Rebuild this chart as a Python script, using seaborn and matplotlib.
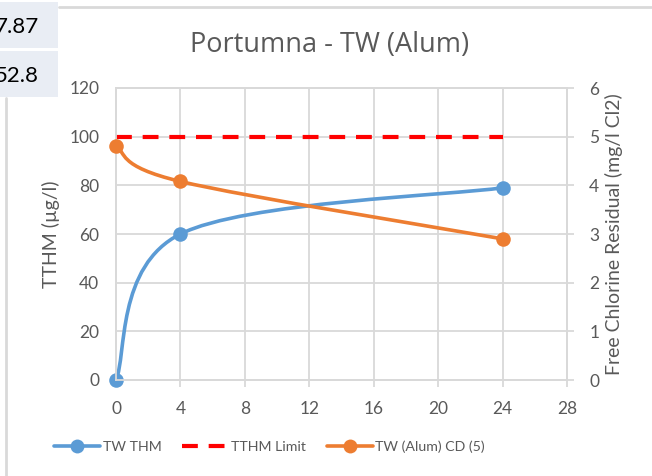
import numpy as np
import matplotlib
matplotlib.use("Agg")
import matplotlib.pyplot as plt
from matplotlib.path import Path
from matplotlib.patches import PathPatch, Rectangle
from matplotlib.lines import Line2D
import seaborn as sns

# Sampling times (hours)
hours = [0, 4, 24]
# Total trihalomethanes, µg/l (left axis)
tw_thm = [0, 60, 79]
# Regulatory limit, µg/l
tthm_limit = [100, 100, 100]
# Free chlorine residual, mg/l Cl2 (right axis)
tw_alum_cd5 = [4.8, 4.08, 2.9]

x_ticks = [0, 4, 8, 12, 16, 20, 24, 28]
left_ticks = [0, 20, 40, 60, 80, 100, 120]
right_ticks = [0, 1, 2, 3, 4, 5, 6]

side_values = ["7.87", "52.8"]

BLUE = "#5B9BD5"
ORANGE = "#ED7D31"
RED = "#FF0000"
GRID = "#D9D9D9"
TXT = "#595959"

sns.set_theme(style="white")
plt.rcParams["font.family"] = ["Lato", "DejaVu Sans"]

W, H = 652, 476
fig = plt.figure(figsize=(W / 100, H / 100), dpi=100)

L, R, T, B = 116, 567, 88, 380
ax = fig.add_axes([L / W, 1 - B / H, (R - L) / W, (B - T) / H])
ax2 = ax.twinx()

ax.set_xlim(0, 28)
ax.set_ylim(0, 120)
ax2.set_ylim(0, 6)
ax.set_xticks(x_ticks)
ax.set_yticks(left_ticks)
ax2.set_yticks(right_ticks)

ax.grid(True, color=GRID, linewidth=1.3)
ax.set_axisbelow(True)
for a in (ax, ax2):
    for s in a.spines.values():
        s.set_color(GRID)
        s.set_linewidth(1.3)

ax.tick_params(axis="x", colors=GRID, labelcolor=TXT, labelsize=12.5, length=5, width=1.3, pad=10, direction="out", bottom=True)
ax.tick_params(axis="y", labelcolor=TXT, labelsize=12.5, length=0, pad=12)
ax2.tick_params(axis="y", colors=GRID, labelcolor=TXT, labelsize=12.5, length=5, width=1.3, pad=11, direction="out", right=True)

ax.set_ylabel("TTHM (µg/l)", color=TXT, fontsize=14, labelpad=7)
ax2.set_ylabel("Free Chlorine Residual (mg/l Cl2)", color=TXT, fontsize=14, labelpad=4)


def smooth_path(axis, xs, ys):
    """Excel-style smoothed line through the points, built from cubic Bezier segments in display space."""
    pts = axis.transData.transform(np.column_stack([xs, ys]))
    n = len(pts)
    verts = [pts[0]]
    codes = [Path.MOVETO]
    for i in range(n - 1):
        p0 = pts[i - 1] if i > 0 else pts[i]
        p1 = pts[i]
        p2 = pts[i + 1]
        p3 = pts[i + 2] if i + 2 < n else pts[i + 1]
        c1 = p1 + (p2 - p0) / 6.0
        c2 = p2 - (p3 - p1) / 6.0
        verts += [c1, c2, p2]
        codes += [Path.CURVE4] * 3
    data_verts = axis.transData.inverted().transform(np.array(verts))
    return Path(data_verts, codes)


# Limit line
sns.lineplot(x=hours, y=tthm_limit, ax=ax, color=RED, linewidth=3, zorder=3)
ax.lines[-1].set_dashes([3.8, 2.6])

# Smoothed series lines
ax.add_patch(PathPatch(smooth_path(ax, hours, tw_thm), fill=False, edgecolor=BLUE, linewidth=2.6, zorder=4, capstyle="round"))
ax2.add_patch(PathPatch(smooth_path(ax2, hours, tw_alum_cd5), fill=False, edgecolor=ORANGE, linewidth=2.6, zorder=4, capstyle="round"))

# Markers
sns.scatterplot(x=hours, y=tw_thm, ax=ax, color=BLUE, s=110, edgecolor=BLUE, linewidth=0, zorder=5)
sns.scatterplot(x=hours, y=tw_alum_cd5, ax=ax2, color=ORANGE, s=110, edgecolor=ORANGE, linewidth=0, zorder=5)
for a in (ax, ax2):
    for c in a.collections:
        c.set_clip_on(False)

ax.set_xlim(0, 28)
ax.set_ylim(0, 120)
ax2.set_ylim(0, 6)

fig.text(330 / W, 1 - 45 / H, "Portumna - TW (Alum)", ha="center", va="center",
         fontsize=19.5, color=TXT, family=["Open Sans", "DejaVu Sans"])

handles = [
    Line2D([], [], color=BLUE, linewidth=2.6, marker="o", markersize=10, markeredgewidth=0),
    Line2D([], [], color=RED, linewidth=3, dashes=[3.8, 2.6]),
    Line2D([], [], color=ORANGE, linewidth=2.6, marker="o", markersize=10, markeredgewidth=0),
]
fig.legend(handles, ["TW THM", "TTHM Limit", "TW (Alum) CD (5)"], loc="center left",
           bbox_to_anchor=(47 / W, 1 - 447 / H), ncol=3, frameon=False,
           fontsize=10.2, labelcolor=TXT, handlelength=3.25, handletextpad=0.2,
           columnspacing=1.45, borderaxespad=0, borderpad=0.5)

# Neighbouring spreadsheet cells and borders
for y0, txt in zip([2, 51], side_values):
    fig.patches.append(Rectangle((0, 1 - (y0 + 46) / H), 58 / W, 46 / H, transform=fig.transFigure,
                                 facecolor="#E9EDF4", edgecolor="none", zorder=0))
    fig.text(39 / W, 1 - (y0 + 25) / H, txt, ha="right", va="center", fontsize=16,
             color="#000000", family=["Lato", "DejaVu Sans"])
fig.add_artist(Line2D([59 / W, 1], [1 - 7 / H, 1 - 7 / H], transform=fig.transFigure, color=GRID, linewidth=2))
fig.add_artist(Line2D([6 / W, 6 / W], [1 - 98 / H, 0], transform=fig.transFigure, color=GRID, linewidth=2))

fig.savefig("out.png", dpi=100)
